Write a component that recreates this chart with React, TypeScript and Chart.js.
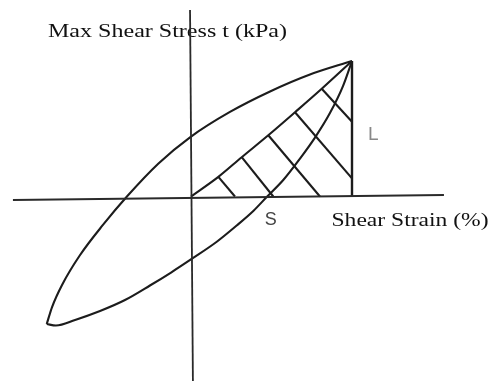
import React, { useEffect, useRef } from "react";
import { Chart, registerables } from "chart.js";

Chart.register(...registerables);

// Hysteresis loop (normalised: peak strain = 1, peak stress = 1)
// Upper (loading) branch, from the lower-left tip to the peak
const loadingStrain = [-0.896, -0.863, -0.801, -0.689, -0.547, -0.398, -0.202, -0.006, 0.242, 0.491, 0.739, 1];
const loadingStress = [-0.941, -0.816, -0.653, -0.432, -0.21, 0, 0.244, 0.437, 0.624, 0.775, 0.9, 1];

// Lower (unloading) branch, listed from the lower-left tip to the peak
const unloadingStrain = [-0.896, -0.839, -0.72, -0.565, -0.41, -0.255, -0.124, 0.004, 0.16, 0.284, 0.387, 0.47, 0.573, 0.677, 0.77, 0.863, 0.944, 1];
const unloadingStress = [-0.941, -0.952, -0.911, -0.845, -0.764, -0.657, -0.561, -0.461, -0.334, -0.214, -0.107, -0.004, 0.122, 0.28, 0.435, 0.616, 0.815, 1];

// Secant (chord) from origin to peak, through the hatch tops
const hatchTopStrain = [0.17, 0.315, 0.48, 0.646, 0.812];
const hatchTopStress = [0.145, 0.29, 0.452, 0.622, 0.795];
const hatchBottomStrain = [0.273, 0.511, 0.801, 1, 1];
const hatchBottomStress = [0, 0, 0, 0.134, 0.552];

// Peak point and axes extents
const peakStrain = 1;
const peakStress = 1;
const strainAxisFrom = [-1.106, -0.026];
const strainAxisTo = [1.571, 0.011];
const stressAxisFrom = [-0.006, 1.376];
const stressAxisTo = [0.012, -1.37];

const stressTitle = "Max Shear Stress t (kPa)";
const strainTitle = "Shear Strain (%)";
const secantLabel = "S";
const amplitudeLabel = "L";

const LINE = "#1c1c1c";

function zip(xs: number[], ys: number[]) {
  return xs.map((x, i) => ({ x, y: ys[i] }));
}

function drawStretched(
  ctx: CanvasRenderingContext2D,
  text: string,
  x: number,
  y: number,
  width: number,
  font: string,
  color: string
) {
  ctx.save();
  ctx.font = font;
  ctx.fillStyle = color;
  ctx.textBaseline = "alphabetic";
  ctx.textAlign = "left";
  const w = ctx.measureText(text).width;
  const sx = width / w;
  ctx.translate(x, y);
  ctx.scale(sx, 1);
  ctx.fillText(text, 0, 0);
  ctx.restore();
}

const textPlugin = {
  id: "textLabels",
  beforeDatasetsDraw(chart: any) {
    const ctx = chart.ctx as CanvasRenderingContext2D;
    const xs = chart.scales.x;
    const ys = chart.scales.y;
    const serif = '"Liberation Serif", "Times New Roman", serif';
    drawStretched(ctx, stressTitle, 48, 36.7, 239, `19px ${serif}`, "#111");
    drawStretched(ctx, strainTitle, 331.5, 226, 157, `19.5px ${serif}`, "#111");
    ctx.save();
    ctx.font = '18px "Liberation Sans", Arial, sans-serif';
    ctx.textBaseline = "alphabetic";
    ctx.fillStyle = "#444";
    ctx.fillText(secantLabel, xs.getPixelForValue(0.458), ys.getPixelForValue(-0.21));
    ctx.fillStyle = "#888";
    ctx.font = '19px "Liberation Sans", Arial, sans-serif';
    ctx.fillText(amplitudeLabel, xs.getPixelForValue(1.1), ys.getPixelForValue(0.42));
    ctx.restore();
  },
};

export default function App() {
  const ref = useRef<HTMLCanvasElement | null>(null);

  useEffect(() => {
    if (!ref.current) return;
    const base = {
      borderColor: LINE,
      borderWidth: 2.1,
      pointRadius: 0,
      showLine: true,
      fill: false,
      clip: false as any,
      tension: 0,
    };
    const hatch = hatchTopStrain.map((x, i) => ({
      ...base,
      data: [
        { x, y: hatchTopStress[i] },
        { x: hatchBottomStrain[i], y: hatchBottomStress[i] },
      ],
    }));
    const chart = new Chart(ref.current, {
      type: "scatter",
      data: {
        datasets: [
          { ...base, borderWidth: 1.8, borderColor: "#2a2a2a", data: [{ x: strainAxisFrom[0], y: strainAxisFrom[1] }, { x: strainAxisTo[0], y: strainAxisTo[1] }] },
          { ...base, borderWidth: 1.8, borderColor: "#2a2a2a", data: [{ x: stressAxisFrom[0], y: stressAxisFrom[1] }, { x: stressAxisTo[0], y: stressAxisTo[1] }] },
          { ...base, data: zip(loadingStrain, loadingStress), cubicInterpolationMode: "monotone" as const },
          { ...base, data: zip(unloadingStrain, unloadingStress), cubicInterpolationMode: "monotone" as const },
          {
            ...base,
            data: [{ x: 0, y: 0 }, ...zip(hatchTopStrain, hatchTopStress), { x: peakStrain, y: peakStress }],
            cubicInterpolationMode: "monotone" as const,
          },
          { ...base, borderWidth: 2.4, data: [{ x: peakStrain, y: 0 }, { x: peakStrain, y: peakStress }] },
          ...hatch,
        ],
      },
      options: {
        animation: false,
        responsive: false,
        devicePixelRatio: 1,
        layout: { padding: 0 },
        plugins: { legend: { display: false }, tooltip: { enabled: false }, title: { display: false } },
        scales: {
          x: { type: "linear", display: false, min: -191 / 161, max: 298 / 161 },
          y: { type: "linear", display: false, min: -184.5 / 135.5, max: 196.5 / 135.5 },
        },
      },
      plugins: [textPlugin],
    });
    return () => chart.destroy();
  }, []);

  return (
    <div style={{ position: "fixed", left: 0, top: 0, width: 489, height: 381, background: "#fff" }}>
      <canvas ref={ref} width={489} height={381} style={{ display: "block" }} />
    </div>
  );
}
